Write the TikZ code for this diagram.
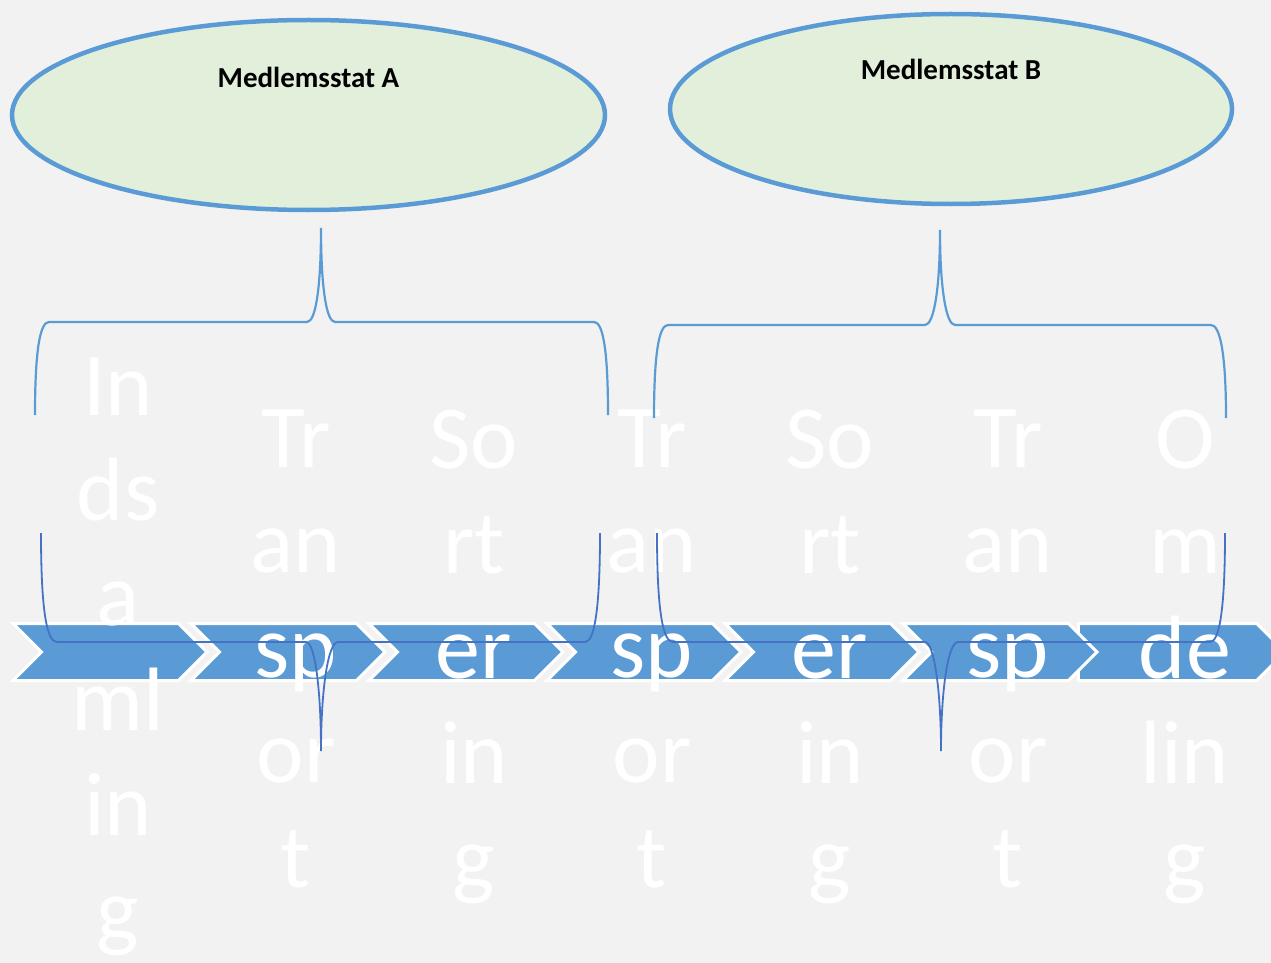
\documentclass[tikz,border=0pt]{standalone}
\usepackage{fontspec}
\setmainfont{Carlito}
\usepackage{tikz}
\usetikzlibrary{positioning,shapes.geometric,shapes.symbols}
\definecolor{m_blue}{HTML}{5B9BD5}
\definecolor{m_dark}{HTML}{4472C4}
\definecolor{m_green}{HTML}{E2EFDA}
\definecolor{m_back}{HTML}{F2F2F2}

\begin{document}
\begin{tikzpicture}[
        x=1pt, y=-1pt,
        member/.style={ellipse, draw=m_blue, line width=4.5pt, fill=m_green, inner sep=0pt, minimum height=190pt},
        membername/.style={font=\fontsize{29}{35}\selectfont\bfseries, anchor=base, inner sep=0pt},
        chevron/.style={signal, signal to=east, signal from=west, fill=m_blue, draw=white, line width=3pt,
            minimum width=194pt, minimum height=57pt, inner sep=0pt},
        lastchevron/.style={chevron, signal from=nowhere, minimum width=207pt},
        steptext/.style={text=white, align=center, font=\fontsize{90}{105}\selectfont, text depth=0pt, inner sep=0pt},
        upbrace/.style={draw=m_blue, line width=2.2pt},
        downbrace/.style={draw=m_dark, line width=1.8pt}
    ]
    \fill[m_back] (0,0) rectangle (1271,963);
    \useasboundingbox (0,0) rectangle (1271,963);

    % member states
    \node[member, minimum width=593pt] (stateA) at (308.5,115) {};
    \node[member, minimum width=562pt] (stateB) at (951,109) {};
    \node[membername] (nameA) at ([yshift=27pt]stateA.center) {Medlemsstat A};
    \node[membername] (nameB) at ([yshift=29pt]stateB.center) {Medlemsstat B};

    % process chevrons
    \node[lastchevron] (chev7) at (1167.5,652) {};
    \node[chevron] (chev1) at (110,652) {};
    \node[chevron] (chev2) at (288,652) {};
    \node[chevron] (chev3) at (466,652) {};
    \node[chevron] (chev4) at (644,652) {};
    \node[chevron] (chev5) at (822,652) {};
    \node[chevron] (chev6) at (1000,652) {};

    \node[steptext] (txt1) at ([xshift=8pt,yshift=3pt]chev1.center) {In\\ds\\a\\ml\\in\\g};
    \node[steptext] (txt2) at ([xshift=8pt,yshift=3pt]chev2.center) {Tr\\an\\sp\\or\\t};
    \node[steptext] (txt3) at ([xshift=8pt,yshift=3pt]chev3.center) {So\\rt\\er\\in\\g};
    \node[steptext] (txt4) at ([xshift=8pt,yshift=3pt]chev4.center) {Tr\\an\\sp\\or\\t};
    \node[steptext] (txt5) at ([xshift=8pt,yshift=3pt]chev5.center) {So\\rt\\er\\in\\g};
    \node[steptext] (txt6) at ([xshift=8pt,yshift=3pt]chev6.center) {Tr\\an\\sp\\or\\t};
    \node[steptext] (txt7) at ([xshift=17.5pt,yshift=3pt]chev7.center) {O\\m\\de\\lin\\g};

    % braces under the states
    \draw[upbrace] (35,415) .. controls (35,350) and (40,322) .. (49,322) -- (307,322)
        .. controls (316,322) and (321,285) .. (321,228) .. controls (321,285) and (326,322) .. (335,322)
        -- (594,322) .. controls (603,322) and (608,350) .. (608,415);
    \draw[upbrace] (654,418) .. controls (654,353) and (659,325) .. (668,325) -- (925,325)
        .. controls (934,325) and (940,288) .. (940,230) .. controls (940,288) and (946,325) .. (955,325)
        -- (1211,325) .. controls (1220,325) and (1226,353) .. (1226,418);

    % braces over the chevrons
    \draw[downbrace] (41,533) .. controls (41,612) and (47,642) .. (57,642) -- (306,642)
        .. controls (315,642) and (321,690) .. (321,751) .. controls (321,690) and (328,642) .. (338,642)
        -- (585,642) .. controls (594,642) and (600,612) .. (600,533);
    \draw[downbrace] (657,533) .. controls (657,612) and (663,642) .. (673,642) -- (925,642)
        .. controls (934,642) and (941,690) .. (941,751) .. controls (941,690) and (948,642) .. (958,642)
        -- (1210,642) .. controls (1219,642) and (1225,612) .. (1225,533);
\end{tikzpicture}
\end{document}
